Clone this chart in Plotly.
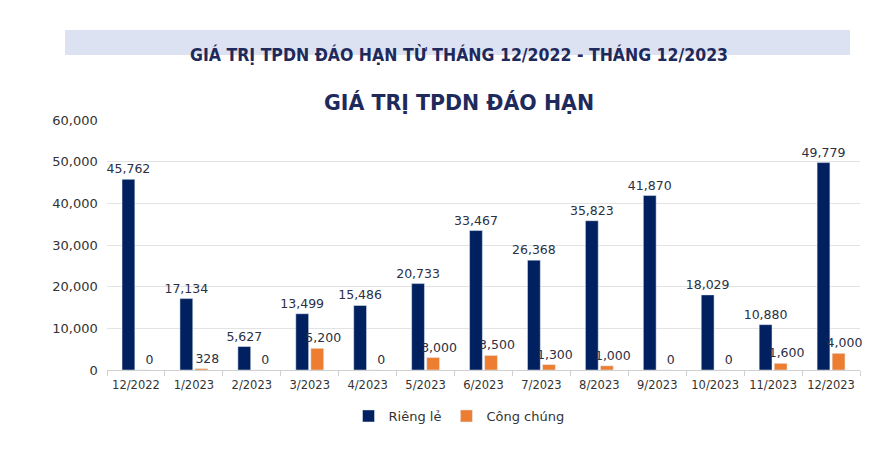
import plotly.graph_objects as go

categories = ["12/2022", "1/2023", "2/2023", "3/2023", "4/2023", "5/2023", "6/2023",
              "7/2023", "8/2023", "9/2023", "10/2023", "11/2023", "12/2023"]
rieng_le = [45762, 17134, 5627, 13499, 15486, 20733, 33467, 26368, 35823, 41870, 18029, 10880, 49779]
cong_chung = [0, 328, 0, 5200, 0, 3000, 3500, 1300, 1000, 0, 0, 1600, 4000]

navy = "#002060"
orange = "#ED7D31"
label_color = "#2a3045"
font_family = "DejaVu Sans, Verdana, sans-serif"

fig = go.Figure()
fig.add_trace(go.Bar(
    x=categories, y=rieng_le, name="Riêng lẻ", marker_color=navy,
    text=[f"{v:,}" for v in rieng_le], textposition="outside", constraintext="none",
    textfont=dict(size=12.5, color=label_color, family=font_family), cliponaxis=False,
))
fig.add_trace(go.Bar(
    x=categories, y=cong_chung, name="Công chúng", marker_color=orange,
    text=["\u00a0\u00a0\u00a0" + f"{v:,}" for v in cong_chung], textposition="outside",
    constraintext="none",
    textfont=dict(size=12.5, color=label_color, family=font_family), cliponaxis=False,
))

fig.update_layout(
    width=888, height=443,
    margin=dict(l=99, r=36, t=112, b=81, autoexpand=False),
    paper_bgcolor="white", plot_bgcolor="white",
    barmode="group", bargap=0.48, bargroupgap=0.15,
    font=dict(family=font_family, color=label_color, size=12),
    showlegend=True,
    legend=dict(orientation="h", x=0.4675, xanchor="center", y=-0.184, yanchor="middle",
                font=dict(size=13, color="#333333"), itemwidth=30, traceorder="normal"),
    xaxis=dict(showline=True, linecolor="#d0d0d0", linewidth=1, ticks="outside",
               tickcolor="#d0d0d0", ticklen=5, tickson="boundaries", ticklabelstandoff=4,
               tickfont=dict(size=11.5, color="#333333"), showgrid=False),
    yaxis=dict(range=[0, 60000], dtick=10000, tickformat=",", showgrid=True,
               gridcolor="#e3e3e3", gridwidth=1, zeroline=False, showline=False,
               tickfont=dict(size=13, color="#333333"), ticksuffix="  "),
    shapes=[dict(type="rect", xref="paper", yref="paper", x0=-0.0558, x1=0.9867,
                 y0=1.26, y1=1.36, fillcolor="#dde2f2", line=dict(width=0), layer="below")],
    annotations=[
        dict(text="<b>GIÁ TRỊ TPDN ĐÁO HẠN TỪ THÁNG 12/2022 - THÁNG 12/2023</b>",
             xref="paper", yref="paper", x=0.4675, y=1.312, showarrow=False,
             font=dict(family="DejaVu Sans Condensed, sans-serif", size=17.5, color="#1f2a5c")),
        dict(text="<b>GIÁ TRỊ TPDN ĐÁO HẠN</b>",
             xref="paper", yref="paper", x=0.4675, y=1.128, showarrow=False,
             font=dict(family=font_family, size=20.5, color="#1f2a5c")),
    ],
)

fig.write_html("out.html")
